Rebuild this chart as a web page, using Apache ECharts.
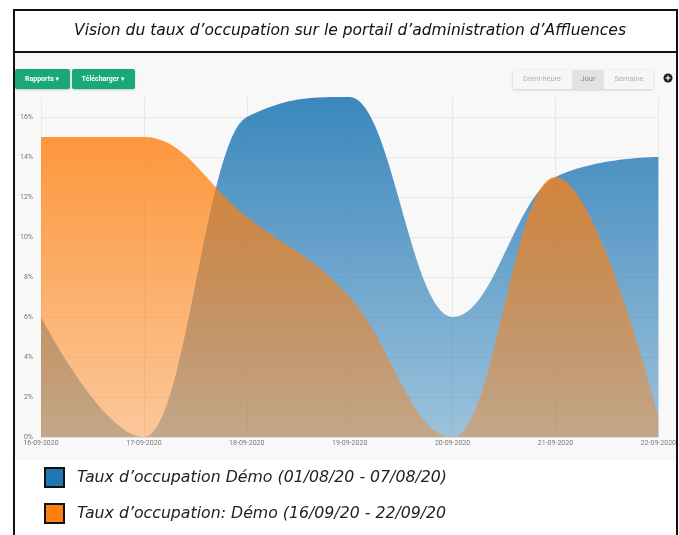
<!DOCTYPE html>
<html>
<head>
<meta charset="utf-8">
<script src="https://cdn.jsdelivr.net/npm/echarts@6/dist/echarts.min.js"></script>
<style>
  html, body { margin: 0; padding: 0; background: #ffffff; }
  #chart { width: 679px; height: 535px; }
</style>
</head>
<body>
<div id="chart"></div>
<script>
// Days shown on the horizontal axis
const days = ['16-09-2020', '17-09-2020', '18-09-2020', '19-09-2020', '20-09-2020', '21-09-2020', '22-09-2020'];

// Occupancy rates (%) for each period
const demoAug = [6, 0, 16, 17, 6, 13, 14];
const demoSep = [15, 15, 11, 7, 0, 13, 1];

// Series names as printed in the legend
const nameAug = 'Taux d\u2019occupation Démo (01/08/20 - 07/08/20)';
const nameSep = 'Taux d\u2019occupation: Démo (16/09/20 - 22/09/20';

const blue = '#1f77b4';
const orange = '#ff7f0e';

// Spline control points (same rules as a classic "areaspline"):
// each inner point gets left/right handles, flattened at local extremes.
function splineCurve(pts) {
  const s = 1.5, d = s + 1;
  const L = [], R = [];
  for (let i = 0; i < pts.length; i++) {
    const x = pts[i][0], y = pts[i][1];
    if (i > 0 && i < pts.length - 1) {
      const lx = pts[i - 1][0], ly = pts[i - 1][1];
      const nx = pts[i + 1][0], ny = pts[i + 1][1];
      let lcx = (s * x + lx) / d, lcy = (s * y + ly) / d;
      let rcx = (s * x + nx) / d, rcy = (s * y + ny) / d;
      let corr = 0;
      if (rcx !== lcx) corr = ((rcy - lcy) * (rcx - x)) / (rcx - lcx) + y - rcy;
      lcy += corr; rcy += corr;
      if (lcy > ly && lcy > y) { lcy = Math.max(ly, y); rcy = 2 * y - lcy; }
      else if (lcy < ly && lcy < y) { lcy = Math.min(ly, y); rcy = 2 * y - lcy; }
      if (rcy > ny && rcy > y) { rcy = Math.max(ny, y); lcy = 2 * y - rcy; }
      else if (rcy < ny && rcy < y) { rcy = Math.min(ny, y); lcy = 2 * y - rcy; }
      L[i] = [lcx, lcy]; R[i] = [rcx, rcy];
    } else {
      L[i] = [x, y]; R[i] = [x, y];
    }
  }
  const out = [pts[0]];
  const steps = 30;
  for (let i = 1; i < pts.length; i++) {
    const p0 = pts[i - 1], c1 = R[i - 1], c2 = L[i], p3 = pts[i];
    for (let k = 1; k <= steps; k++) {
      const t = k / steps, u = 1 - t;
      const a = u * u * u, b = 3 * u * u * t, c = 3 * u * t * t, e = t * t * t;
      out.push([
        a * p0[0] + b * c1[0] + c * c2[0] + e * p3[0],
        a * p0[1] + b * c1[1] + c * c2[1] + e * p3[1]
      ]);
    }
  }
  return out;
}

// Builds a filled spline area for one series using the chart's own scales
function areaRenderer(values, rgb, topAlpha, bottomAlpha) {
  return function (params, api) {
    if (params.dataIndex !== 0) return null;
    const pts = values.map((v, i) => api.coord([i, v]));
    const curve = splineCurve(pts);
    const base0 = api.coord([values.length - 1, 0]);
    const base1 = api.coord([0, 0]);
    curve.push(base0, base1);
    return {
      type: 'polygon',
      shape: { points: curve },
      style: {
        fill: new echarts.graphic.LinearGradient(0, 0, 0, 1, [
          { offset: 0, color: 'rgba(' + rgb + ',' + topAlpha + ')' },
          { offset: 1, color: 'rgba(' + rgb + ',' + bottomAlpha + ')' }
        ]),
        stroke: 'none'
      }
    };
  };
}

const chart = echarts.init(document.getElementById('chart'), null, { renderer: 'canvas' });

const smallFont = 'Roboto, "DejaVu Sans", sans-serif';
const textFont = '"DejaVu Sans", "Open Sans", sans-serif';

chart.setOption({
  animation: false,
  backgroundColor: '#ffffff',
  title: {
    text: 'Vision du taux d\u2019occupation sur le portail d\u2019administration d\u2019Affluences',
    left: 350,
    top: 23,
    padding: 0,
    textAlign: 'center',
    textStyle: {
      fontFamily: textFont,
      fontStyle: 'italic',
      fontWeight: 'normal',
      fontSize: 15.5,
      color: '#111111'
    }
  },
  grid: { left: 41, right: 20, top: 97, bottom: 98, containLabel: false },
  legend: {
    orient: 'vertical',
    left: 44,
    top: 467,
    padding: 0,
    itemWidth: 19,
    itemHeight: 19,
    itemGap: 15,
    icon: 'rect',
    selectedMode: false,
    textStyle: {
      fontFamily: textFont,
      fontStyle: 'italic',
      fontSize: 15.75,
      color: '#222222',
      padding: [0, 0, 0, 8]
    },
    data: [
      { name: nameAug, itemStyle: { color: blue, borderColor: '#111111', borderWidth: 2 } },
      { name: nameSep, itemStyle: { color: orange, borderColor: '#111111', borderWidth: 2 } }
    ]
  },
  xAxis: {
    type: 'category',
    data: days,
    boundaryGap: false,
    axisLine: { show: true, lineStyle: { color: '#dddddd' } },
    axisTick: { show: false },
    axisLabel: { color: '#777777', fontSize: 7, fontFamily: smallFont, margin: 3 },
    splitLine: { show: true, lineStyle: { color: '#e8e8e8' } }
  },
  yAxis: {
    type: 'value',
    min: 0,
    max: 17,
    interval: 2,
    axisLine: { show: false },
    axisTick: { show: false },
    axisLabel: {
      formatter: '{value}%',
      color: '#777777',
      fontSize: 7,
      fontFamily: smallFont,
      margin: 8,
      showMaxLabel: false
    },
    splitLine: { show: true, showMaxLine: false, lineStyle: { color: '#e8e8e8' } }
  },
  series: [
    {
      name: nameAug,
      type: 'custom',
      itemStyle: { color: blue },
      data: demoAug.map((v, i) => [i, v]),
      encode: { x: 0, y: 1 },
      renderItem: areaRenderer(demoAug, '31,119,180', 0.87, 0.42),
      z: 2
    },
    {
      name: nameSep,
      type: 'custom',
      itemStyle: { color: orange },
      data: demoSep.map((v, i) => [i, v]),
      encode: { x: 0, y: 1 },
      renderItem: areaRenderer(demoSep, '255,127,14', 0.8, 0.4),
      z: 3
    }
  ],
  graphic: [
    // panel background behind the plot
    { type: 'rect', z: -10, silent: true, shape: { x: 15, y: 53, width: 661, height: 407 }, style: { fill: '#f8f8f8' } },
    // frame and title separator
    { type: 'rect', z: 50, silent: true, shape: { x: 14, y: 10, width: 663, height: 560 }, style: { fill: 'none', stroke: '#111111', lineWidth: 2 } },
    { type: 'line', z: 50, silent: true, shape: { x1: 14, y1: 52, x2: 677, y2: 52 }, style: { stroke: '#111111', lineWidth: 2 } },
    // left buttons
    { type: 'rect', z: 20, shape: { x: 15, y: 69, width: 55, height: 20, r: 2 }, style: { fill: '#19a974', shadowBlur: 2, shadowColor: 'rgba(0,0,0,0.2)', shadowOffsetY: 1 } },
    { type: 'text', z: 21, x: 42, y: 79, style: { text: 'Rapports ▾', fill: '#ffffff', font: 'bold 7px ' + smallFont, align: 'center', verticalAlign: 'middle' } },
    { type: 'rect', z: 20, shape: { x: 72, y: 69, width: 63, height: 20, r: 2 }, style: { fill: '#19a974', shadowBlur: 2, shadowColor: 'rgba(0,0,0,0.2)', shadowOffsetY: 1 } },
    { type: 'text', z: 21, x: 103, y: 79, style: { text: 'Télécharger ▾', fill: '#ffffff', font: 'bold 7px ' + smallFont, align: 'center', verticalAlign: 'middle' } },
    // period toggle
    { type: 'rect', z: 20, shape: { x: 513, y: 70, width: 140, height: 19, r: 1 }, style: { fill: '#f6f6f6', shadowBlur: 3, shadowColor: 'rgba(0,0,0,0.18)', shadowOffsetY: 1 } },
    { type: 'rect', z: 21, shape: { x: 572, y: 70, width: 32, height: 19 }, style: { fill: '#e2e2e2' } },
    { type: 'text', z: 22, x: 542, y: 79.5, style: { text: 'Demi-heure', fill: '#b0b0b0', font: '7.5px ' + smallFont, align: 'center', verticalAlign: 'middle' } },
    { type: 'text', z: 22, x: 588, y: 79.5, style: { text: 'Jour', fill: '#8a8a8a', font: '7.5px ' + smallFont, align: 'center', verticalAlign: 'middle' } },
    { type: 'text', z: 22, x: 629, y: 79.5, style: { text: 'Semaine', fill: '#b0b0b0', font: '7.5px ' + smallFont, align: 'center', verticalAlign: 'middle' } },
    // add icon
    { type: 'circle', z: 20, shape: { cx: 668, cy: 78, r: 4.5 }, style: { fill: '#1a1a1a' } },
    { type: 'line', z: 21, shape: { x1: 665.5, y1: 78, x2: 670.5, y2: 78 }, style: { stroke: '#ffffff', lineWidth: 1.2 } },
    { type: 'line', z: 21, shape: { x1: 668, y1: 75.5, x2: 668, y2: 80.5 }, style: { stroke: '#ffffff', lineWidth: 1.2 } }
  ]
});
</script>
</body>
</html>
